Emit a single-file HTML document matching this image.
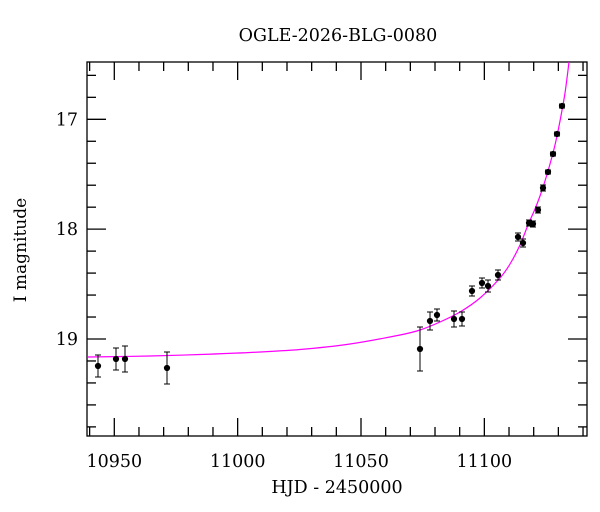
<!DOCTYPE html>
<html><head><style>body{margin:0;background:#fff}svg{display:block}text{font-family:"DejaVu Serif","Liberation Serif",serif;fill:#000}</style></head><body>
<svg width="600" height="512" xmlns="http://www.w3.org/2000/svg" id="s">
<text x="338" y="41" font-size="17.5" text-anchor="middle">OGLE-2026-BLG-0080</text>
<text x="337" y="493" font-size="17.5" text-anchor="middle">HJD - 2450000</text>
<text transform="translate(26,250) rotate(-90)" font-size="17" text-anchor="middle">I magnitude</text>
<g id="ax" stroke="#000" stroke-width="1.3" fill="none"><rect x="87" y="62" width="500" height="374"/></g>
<path id="cv" fill="none" stroke="#ff00ff" stroke-width="1.2" d=""/>
<g id="pts" stroke="#000" stroke-width="1" fill="#000"></g>
</svg>
<script>
var NS="http://www.w3.org/2000/svg",ax=document.getElementById("ax"),s=document.getElementById("s");
function L(g,x1,y1,x2,y2){var l=document.createElementNS(NS,"line");l.setAttribute("x1",x1);l.setAttribute("y1",y1);l.setAttribute("x2",x2);l.setAttribute("y2",y2);g.appendChild(l);}
function T(x,y,t,a){var e=document.createElementNS(NS,"text");e.setAttribute("x",x);e.setAttribute("y",y);e.setAttribute("font-size","17.5");e.setAttribute("text-anchor",a);e.textContent=t;s.appendChild(e);}
function X(t){return 114.3+(t-10950)*2.467;}
function Y(m){return 119.3+(m-17)*109.85;}
for(var t=10940;t<=11140;t+=10){var x=X(t);if(x<87||x>587)continue;var maj=t%50==0,len=maj?18:9;L(ax,x,436,x,436-len);L(ax,x,62,x,62+len);if(maj)T(x,467,t,"middle");}
for(var i=83;i<=99;i++){var m=i/5,y=Y(m);if(y<62||y>436)continue;var maj=i%5==0,len=maj?19:9;L(ax,87,y,87+len,y);L(ax,587,y,587-len,y);if(maj)T(78,y+6,m,"end");}
var P=[[88,357],[150,356],[200,354.5],[250,352.5],[300,349.5],[350,344],[400,335],[420,330],[440,322],[460,312],[480,298],[500,278],[510,264],[520,245],[528,225],[535,209],[540,196],[545,181],[550,164],[555,145],[560,121],[565,93],[569,62]];
var dd="M"+P[0][0]+","+P[0][1];
for(var k=0;k<P.length-1;k++){var p0=P[Math.max(k-1,0)],p1=P[k],p2=P[k+1],p3=P[Math.min(k+2,P.length-1)];
dd+=" C"+(p1[0]+(p2[0]-p0[0])/6)+","+(p1[1]+(p2[1]-p0[1])/6)+" "+(p2[0]-(p3[0]-p1[0])/6)+","+(p2[1]-(p3[1]-p1[1])/6)+" "+p2[0]+","+p2[1];}
document.getElementById("cv").setAttribute("d",dd);
var p=document.getElementById("pts");
var d=[[98,366,11],[116,359,11],[125,359,13],[167,368,16],[420,349,22],[430,321,9],[437,315,6],[454,319,8],[462,319,7],[472,291,5],[482,283,5],[488,286,6],[498,275,5],[518,237,4],[523,243,4],[529,223,3],[533,224,3],[538,210,3],[543,188,3],[548,172,2],[553,154,2],[557,134,2],[562,106,2]];
d.forEach(function(a){L(p,a[0],a[1]-a[2],a[0],a[1]+a[2]);L(p,a[0]-3,a[1]-a[2],a[0]+3,a[1]-a[2]);L(p,a[0]-3,a[1]+a[2],a[0]+3,a[1]+a[2]);var c=document.createElementNS(NS,"circle");c.setAttribute("cx",a[0]);c.setAttribute("cy",a[1]);c.setAttribute("r",2.6);p.appendChild(c);});
</script>
</body></html>
